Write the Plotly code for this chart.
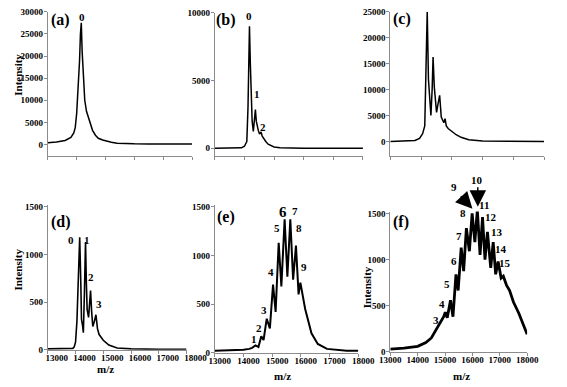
import plotly.graph_objects as go

# ---- data ----
mz_a = [13000, 13300, 13600, 13800, 13900, 13950, 14000, 14030, 14050, 14070, 14100, 14130,
        14160, 14190, 14220, 14280, 14340, 14400, 14450, 14550, 14650, 14750, 14900, 15050,
        15200, 15400, 15600, 16000, 16500, 17000, 17500, 18000]
int_a = [400, 550, 900, 1600, 2600, 3800, 7000, 10500, 13000, 13600, 19000, 25000,
         27500, 21000, 16500, 10000, 7500, 6300, 4800, 3200, 2100, 1400, 1000, 700,
         500, 300, 200, 150, 120, 100, 100, 100]

mz_b = [13000, 13500, 13900, 14000, 14080, 14120, 14145, 14170, 14200, 14230, 14260, 14300,
        14340, 14370, 14400, 14430, 14470, 14510, 14560, 14600, 14650, 14720, 14800, 14900,
        15000, 15200, 15500, 16000, 17000, 18000]
int_b = [0, 0, 30, 150, 500, 3000, 6500, 9000, 6200, 3500, 2000, 1250,
         2300, 2850, 2000, 1600, 1300, 1050, 1200, 900, 700, 500, 300, 180,
         100, 30, 10, 0, 0, 0]

mz_c = [13000, 13500, 13800, 13950, 14050, 14120, 14160, 14200, 14240, 14280, 14320, 14360,
        14390, 14430, 14460, 14503, 14550, 14604, 14656, 14700, 14740, 14780, 14820, 14880,
        15000, 15140, 15300, 15550, 16000, 16500, 17000, 18000]
int_c = [0, 50, 200, 600, 1500, 3000, 12000, 25000, 12000, 7000, 5000, 10000,
         16300, 10500, 8100, 5600, 7200, 8900, 4700, 4000, 3600, 4400, 3000, 2500,
         1900, 1300, 800, 350, 100, 50, 20, 0]

mz_d = [13000, 13500, 13900, 13950, 14000, 14050, 14100, 14150, 14190, 14214, 14250, 14282,
        14320, 14360, 14390, 14418, 14470, 14541, 14580, 14622, 14680, 14735, 14792, 14850,
        15000, 15200, 15500, 16000, 17000, 18000]
int_d = [10, 10, 15, 30, 80, 300, 700, 1180, 700, 320, 260, 180,
         600, 1130, 700, 420, 340, 620, 400, 245, 300, 367, 220, 160,
         100, 50, 20, 10, 5, 5]

mz_e = [13000, 13500, 14000, 14200, 14300, 14420, 14520, 14620, 14700, 14810, 14920, 15030,
        15120, 15227, 15320, 15434, 15530, 15632, 15730, 15829, 15920, 15983, 16150, 16370,
        16590, 16910, 17300, 17600, 18000]
int_e = [20, 25, 30, 40, 50, 75, 60, 170, 130, 350, 250, 700,
         420, 1130, 680, 1370, 780, 1370, 750, 1100, 600, 720, 450, 200,
         90, 40, 25, 20, 20]

mz_f = [13000, 13500, 14000, 14300, 14500, 14700, 14850, 14950, 15010, 15080, 15200, 15290,
        15400, 15480, 15590, 15680, 15780, 15890, 15990, 16090, 16180, 16280, 16370, 16460,
        16550, 16670, 16760, 16850, 16940, 17050, 17130, 17250, 17360, 17500, 17700, 17850,
        18000]
int_f = [30, 40, 60, 100, 150, 250, 330, 380, 430, 370, 560, 380,
         840, 665, 1130, 875, 1340, 1090, 1500, 1190, 1540, 1050, 1460, 1000,
         1300, 910, 1190, 840, 980, 800, 820, 720, 665, 540, 415, 300,
         190]

# peak labels (text, m/z, intensity)
lab_a = [("0", 14176, 28850)]
lab_b = [("0", 14146, 9780), ("1", 14433, 3980), ("2", 14624, 1600)]
lab_d = [("0", 13850, 1146), ("1", 14418, 1146), ("2", 14565, 762), ("3", 14847, 477)]
lab_e = [("1", 14359, 143), ("2", 14556, 253), ("3", 14720, 443), ("4", 14974, 827),
         ("5", 15180, 1280), ("6", 15365, 1443), ("7", 15796, 1453), ("8", 15950, 1277),
         ("9", 16125, 880)]
lab_f = [("3", 14655, 350), ("4", 14900, 517), ("5", 15070, 740), ("6", 15310, 980),
         ("7", 15520, 1257), ("8", 15655, 1510), ("9", 15345, 1785), ("10", 16170, 1860),
         ("11", 16410, 1595), ("12", 16690, 1457), ("13", 16900, 1300), ("14", 17030, 1120),
         ("15", 17200, 960)]
# arrows in (f): head position (m/z, intensity), tail offset in px
arrows_f = [(16000, 1552, -13, -14), (16197, 1573, 0, -21)]

W, H = 567, 387
SERIF = "Liberation Serif"


def px(x, y):
    return x / W, 1 - y / H


panels = [
    # name, mz, intensity, x px range, y px range (bottom, top), y range, dtick, width, label shift
    ("a", mz_a, int_a, (39, 192), (155, 7), (-2600, 30000), 5000, 1.5, 0),
    ("b", mz_b, int_b, (216, 373), (155, 8), (-570, 10000), 5000, 1.5, 0),
    ("c", mz_c, int_c, (402, 565), (155, 7), (-2800, 25000), 5000, 1.5, 0),
    ("d", mz_d, int_d, (39, 186), (354, 205), (0, 1520), 500, 1.6, 9),
    ("e", mz_e, int_e, (216, 368), (357, 205), (0, 1520), 500, 2.0, 5),
    ("f", mz_f, int_f, (402, 547), (356, 212), (0, 1521), 500, 2.8, 0),
]

fig = go.Figure()
layout = {}
for i, (name, mz, inten, xp, yp, yr, dt, lw, shift) in enumerate(panels, start=1):
    sfx = "" if i == 1 else str(i)
    fig.add_trace(go.Scatter(x=mz, y=inten, mode="lines", xaxis="x" + sfx, yaxis="y" + sfx,
                             line=dict(color="black", width=lw), showlegend=False,
                             hoverinfo="skip"))
    axis_common = dict(showline=True, linecolor="#8c8c8c", linewidth=1, ticks="outside",
                       ticklen=3, tickcolor="#8c8c8c", showgrid=False, zeroline=False,
                       tickfont=dict(family=SERIF, size=9, color="black", weight="bold"))
    layout["xaxis" + sfx] = dict(axis_common, domain=[xp[0] / W, xp[1] / W],
                                 range=[13000, 18000], dtick=1000, tickformat="d",
                                 anchor="y" + sfx, showticklabels=i > 3,
                                 ticklabelstandoff=-4, ticklabelshift=shift)
    layout["yaxis" + sfx] = dict(axis_common, domain=[1 - yp[0] / H, 1 - yp[1] / H],
                                 range=list(yr), dtick=dt, tickformat="d",
                                 anchor="x" + sfx, ticklabelstandoff=-1)

fig.update_layout(**layout)

# (f) panel mapping, used for labels that sit above its axis range
f_xp, f_yp, f_yr = panels[5][3], panels[5][4], panels[5][5]


def f_paper_y(v):
    pyx = f_yp[0] + (v - f_yr[0]) / (f_yr[1] - f_yr[0]) * (f_yp[1] - f_yp[0])
    return 1 - pyx / H


ann = []
# panel letters
for letter, (x, y) in zip("abcdef", [(52, 15), (228, 15), (414, 14), (53, 223), (228, 218), (413, 223)]):
    xx, yy = px(x, y)
    ann.append(dict(text="(%s)" % letter, x=xx, y=yy, xref="paper", yref="paper",
                    xanchor="center", yanchor="middle", showarrow=False,
                    font=dict(family=SERIF, size=16, weight="bold", color="black")))

# axis titles
for x, y in [(8, 72), (7, 272), (377, 290)]:
    xx, yy = px(x, y)
    ann.append(dict(text="Intensity", x=xx, y=yy, xref="paper", yref="paper", textangle=-90,
                    xanchor="center", yanchor="middle", showarrow=False,
                    font=dict(family=SERIF, size=11, weight="bold", color="black")))
for x, y in [(100, 374), (288, 381), (477, 381)]:
    xx, yy = px(x, y)
    ann.append(dict(text="m/z", x=xx, y=yy, xref="paper", yref="paper",
                    xanchor="center", yanchor="middle", showarrow=False,
                    font=dict(family=SERIF, size=11, weight="bold", color="black")))

# peak labels
for labs, sfx in [(lab_a, ""), (lab_b, "2"), (lab_d, "4"), (lab_e, "5"), (lab_f, "6")]:
    for t, x, y in labs:
        size = 15 if (sfx == "5" and t == "6") else 11
        a = dict(text=t, x=x, y=y, xref="x" + sfx, yref="y" + sfx, showarrow=False,
                 xanchor="center", yanchor="middle",
                 font=dict(family=SERIF, size=size, weight="bold", color="black"))
        if sfx == "6":
            a.update(y=f_paper_y(y), yref="paper")
        ann.append(a)

for x, y, dx, dy in arrows_f:
    ann.append(dict(text="", x=x, y=f_paper_y(y), xref="x6", yref="paper", ax=dx, ay=dy,
                    showarrow=True, arrowhead=2, arrowsize=2.2, arrowwidth=1.5,
                    arrowcolor="black"))

fig.update_layout(width=W, height=H, margin=dict(l=0, r=0, t=0, b=0),
                  paper_bgcolor="white", plot_bgcolor="white", annotations=ann)

fig.write_html("out.html", config={"displayModeBar": False},
               post_script="document.body.style.margin='0px';")
